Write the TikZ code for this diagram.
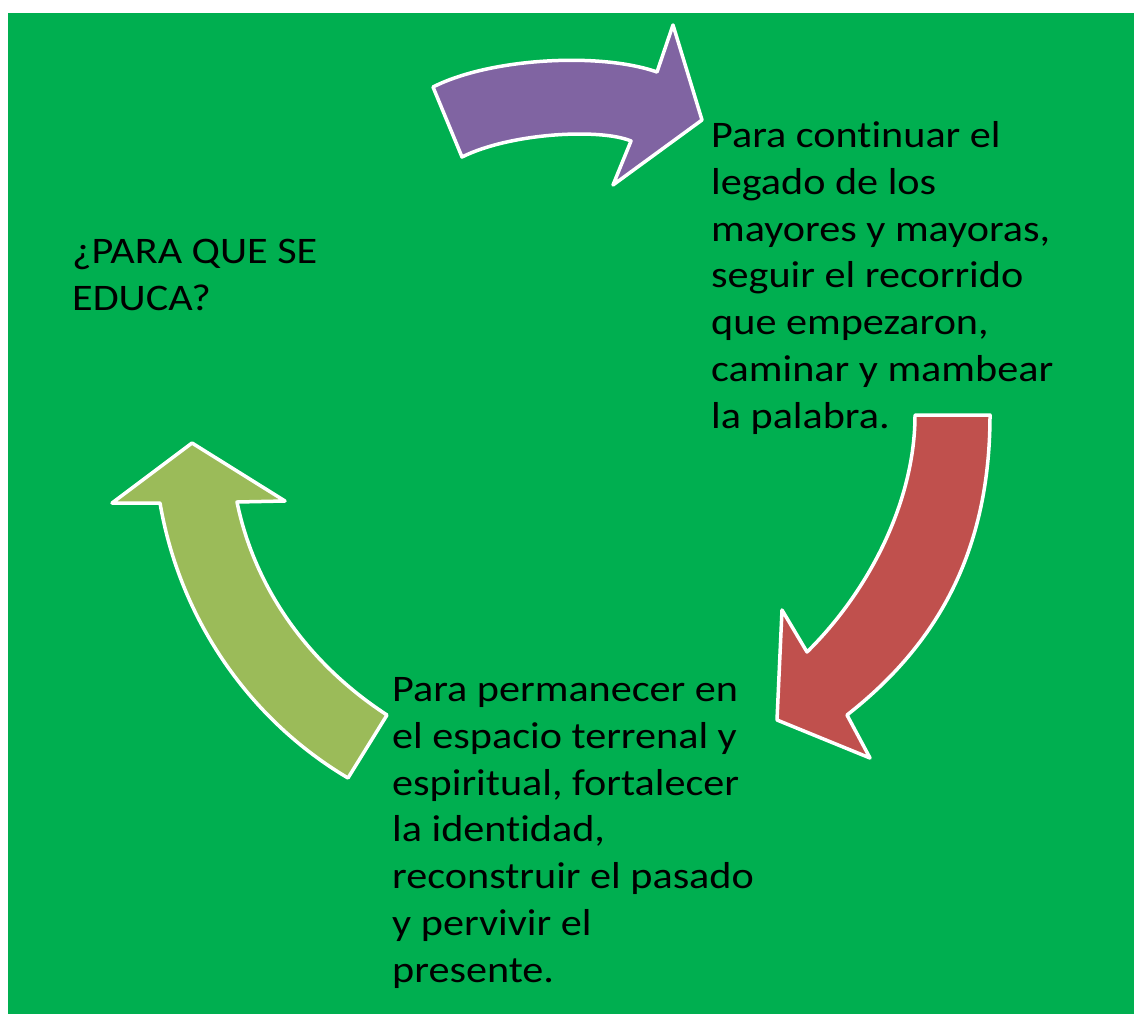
\documentclass[tikz,border=0pt]{standalone}
\usepackage{fontspec}
\setmainfont{Carlito}[FakeStretch=1.125, Ligatures=NoCommon]
\usepackage{tikz}
\usetikzlibrary{shapes,positioning,calc}
\definecolor{fondo}{HTML}{00AF50}
\definecolor{viola}{HTML}{8064A2}
\definecolor{rosso}{HTML}{C0504D}
\definecolor{oliva}{HTML}{9BBB59}
\tikzstyle{testo} = [inner sep=0pt, align=left, text=black,
font=\fontsize{37.5}{46.7}\selectfont]
\tikzstyle{freccia} = [draw=white, line width=3.5pt, line join=round]

\begin{document}
\begin{tikzpicture}[x=1pt,y=-1pt]
\useasboundingbox (0,0) rectangle (1134,1014);
\fill[fondo] (8,13) rectangle (1134,1014);
\filldraw[freccia, fill=viola] (433,87) .. controls (490,58) and (600,52) .. (657,72)
  -- (673,25) -- (702,120) -- (613,185) -- (631,141)
  .. controls (600,128) and (510,133) .. (462,157) -- cycle;
\filldraw[freccia, fill=rosso] (915,415) -- (990,415)
  .. controls (990,560) and (930,650) .. (847,715)
  -- (870,758) -- (777,720) -- (782,610) -- (807,652)
  .. controls (870,590) and (915,500) .. (915,415) -- cycle;
\filldraw[freccia, fill=oliva] (192,443) -- (285,501) -- (237,502)
  .. controls (255,590) and (310,665) .. (387,715)
  -- (348,778)
  .. controls (250,720) and (180,620) .. (160,503)
  -- (112,503) -- cycle;
\node (domanda) at (72,310) [testo, anchor=base west] {¿PARA QUE SE\\EDUCA?};
\node (legado) at (711,428) [testo, anchor=base west] {Para continuar el\\legado de los\\mayores y mayoras,\\seguir el recorrido\\que empezaron,\\caminar y mambear\\la palabra.};
\node (espacio) at (392,982) [testo, anchor=base west] {Para permanecer en\\el espacio terrenal y\\espiritual, fortalecer\\la identidad,\\reconstruir el pasado\\y pervivir el\\presente.};
\end{tikzpicture}
\end{document}
